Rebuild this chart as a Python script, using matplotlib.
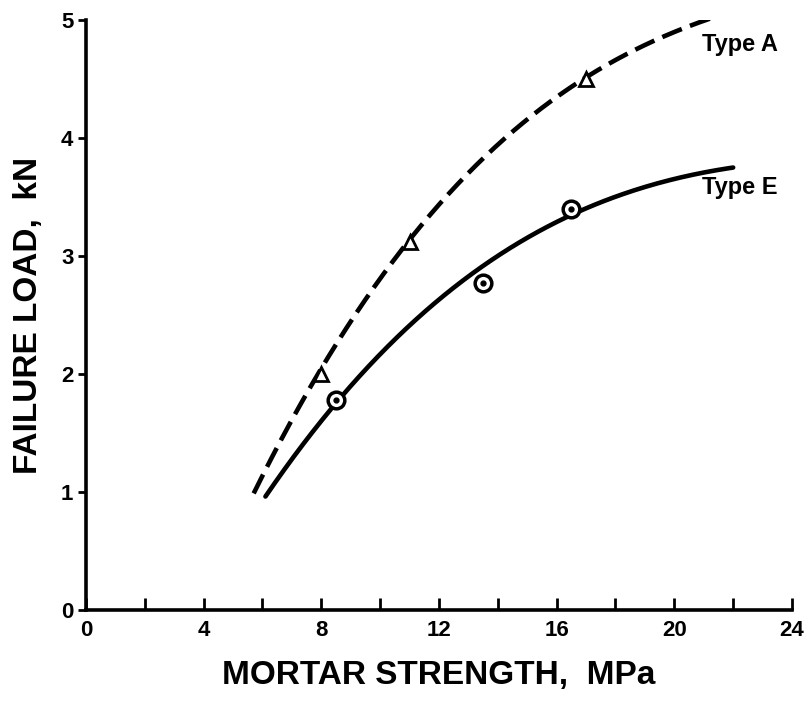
import matplotlib
matplotlib.use("Agg")
import matplotlib.pyplot as plt
import numpy as np

# Data
typeA_pts_x = [8, 11, 17]
typeA_pts_y = [2.0, 3.12, 4.5]
typeE_pts_x = [8.5, 13.5, 16.5]
typeE_pts_y = [1.78, 2.77, 3.4]

typeA_curve_x = [5.7, 6.3, 7.9, 9.1, 10.9, 11.7, 12.8, 14.0, 14.8, 15.3, 16.8, 18.2, 19.5, 21.4]
typeA_curve_y = [1.0, 1.28, 1.98, 2.49, 3.12, 3.36, 3.66, 3.91, 4.11, 4.24, 4.48, 4.69, 4.84, 5.03]
typeE_curve_x = [6.1, 8.4, 10.9, 13.4, 16.4, 19.8, 22.0]
typeE_curve_y = [0.97, 1.71, 2.38, 2.92, 3.34, 3.62, 3.76]

x_ticks_major = [0, 4, 8, 12, 16, 20, 24]
x_ticks_minor = [2, 6, 10, 14, 18, 22]
y_ticks = [0, 1, 2, 3, 4, 5]

plt.rcParams['font.family'] = ['Liberation Sans', 'DejaVu Sans']

fig = plt.figure(figsize=(8.12, 7.04), dpi=100)
ax = fig.add_axes([86/812, 1-610/704, (792-86)/812, (610-20)/704])

def smooth(xs, ys, n=200):
    xs = np.asarray(xs); ys = np.asarray(ys)
    c = np.polyfit(xs, ys, 3)
    xx = np.linspace(xs[0], xs[-1], n)
    return xx, np.polyval(c, xx)

xa, ya = smooth(typeA_curve_x, typeA_curve_y)
xe, ye = smooth(typeE_curve_x, typeE_curve_y)
ax.plot(xa, ya, color='black', lw=3.3, dashes=(4.6, 1.9), dash_capstyle='butt')
ax.plot(xe, ye, color='black', lw=3.3, solid_capstyle='round')

ax.plot(typeA_pts_x, typeA_pts_y, linestyle='none', marker='^', markersize=10,
        markerfacecolor='white', markeredgecolor='black', markeredgewidth=2)
ax.plot(typeE_pts_x, typeE_pts_y, linestyle='none', marker='o', markersize=12,
        markerfacecolor='white', markeredgecolor='black', markeredgewidth=2.5)
ax.plot(typeE_pts_x, typeE_pts_y, linestyle='none', marker='o', markersize=3.5,
        markerfacecolor='black', markeredgecolor='black')

tfont = dict(family=['Liberation Sans Narrow', 'Liberation Sans'], fontsize=17, fontweight='bold')
ax.text(20.95, 4.79, 'Type A', ha='left', va='center', **tfont)
ax.text(20.95, 3.58, 'Type E', ha='left', va='center', **tfont)

ax.set_xlim(0, 24)
ax.set_ylim(0, 5)
for s in ['top', 'right']:
    ax.spines[s].set_visible(False)
for s in ['left', 'bottom']:
    ax.spines[s].set_linewidth(2.6)

ax.set_xticks(x_ticks_major + x_ticks_minor)
ax.set_xticklabels([str(v) for v in x_ticks_major] + [''] * len(x_ticks_minor))
ax.tick_params(axis='x', direction='in', length=9, width=2, pad=7)
ax.set_yticks(y_ticks)
ax.set_yticklabels([str(v) for v in y_ticks])
ax.tick_params(axis='y', direction='out', length=6, width=2, pad=3)
for lab in ax.get_xticklabels() + ax.get_yticklabels():
    lab.set_fontweight('bold')
    lab.set_family(['Liberation Sans Narrow', 'Liberation Sans'])
    lab.set_fontsize(16)

ax.set_xlabel('MORTAR STRENGTH,  MPa', fontsize=24, fontweight='bold', labelpad=14)
ax.set_ylabel('FAILURE LOAD,  kN', fontsize=24, fontweight='bold', labelpad=12)

fig.savefig('out.png', dpi=100)
